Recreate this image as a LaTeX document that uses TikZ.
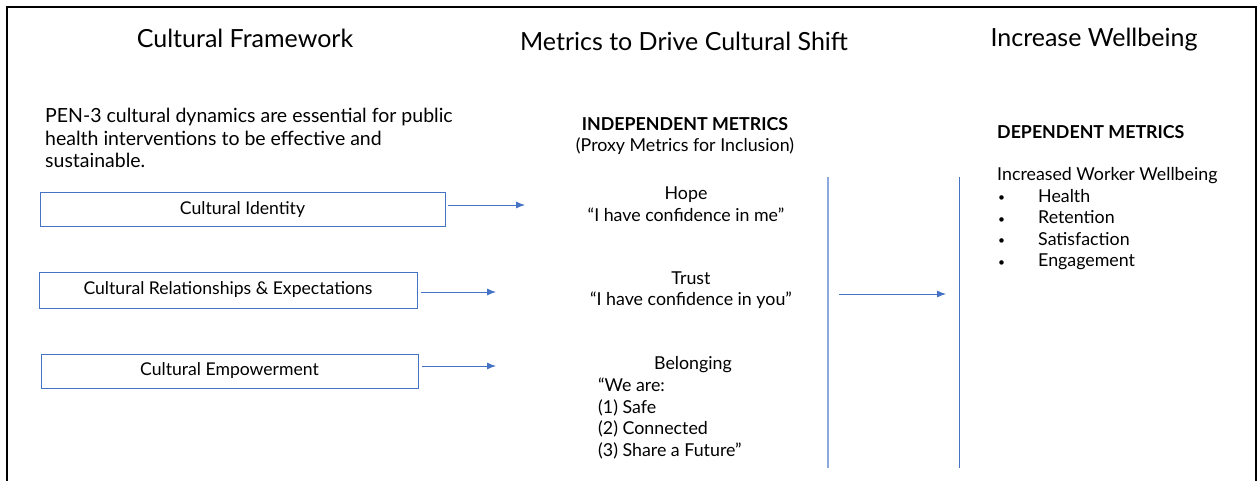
\documentclass[tikz,border=0pt]{standalone}
\usepackage{fontspec}
\setmainfont{Lato}
\usetikzlibrary{arrows.meta}
\definecolor{boxblue}{HTML}{4472C4}
\definecolor{lightblue}{HTML}{8EA9DB}
\newcommand{\mybul}{{\fontsize{12}{12}\selectfont•}\vphantom{Hg}}
\tikzset{
  title/.style={font=\fontsize{25}{29}\selectfont, inner sep=0pt},
  body/.style={font=\fontsize{17.8}{21.5}\selectfont, inner sep=0pt},
  para/.style={font=\fontsize{19.5}{22.5}\selectfont, inner sep=0pt},
  cbox/.style={draw=boxblue, line width=0.8pt, minimum height=34pt, inner sep=0pt, font=\fontsize{17.6}{20}\selectfont},
  conn/.style={draw=boxblue, line width=0.9pt, -{Latex[length=9pt,width=7pt]}},
}
\begin{document}
\begin{tikzpicture}[x=1pt,y=-1pt]
\useasboundingbox (0,0) rectangle (1257,481);
% frame
\draw[line width=2pt] (7,485) -- (7,7) -- (1256,7) -- (1256,485);
% titles
\node[title] (t1) at (245,38) {Cultural Framework};
\node[title] (t2) at (684,41) {Metrics to Drive Cultural Shift};
\node[title] (t3) at (1094,40) {Increase Wellbeing};
% paragraph
\node[para, anchor=north west, align=left] (para) at (45,108) {PEN-3 cultural dynamics are essential for public\\health interventions to be effective and\\sustainable.};
% boxes
\node[cbox, minimum width=405pt] (b1) at (242.5,209.5) {Cultural Identity};
\node[cbox, minimum width=378pt, minimum height=36pt] (b2) at (228,290) {Cultural Relationships \& Expectations};
\node[cbox, minimum width=377pt] (b3) at (229.5,371) {Cultural Empowerment};
% arrow endpoints
\coordinate (e1) at (525,205);
\coordinate (e2) at (496,292);
\coordinate (e3) at (496,366);
\draw[conn] ([xshift=3pt]b1.east |- e1) -- (e1);
\draw[conn] ([xshift=4pt]b2.east |- e2) -- (e2);
\draw[conn] ([xshift=4pt]b3.east |- e3) -- (e3);
% middle column
\node[body, align=center] (ind) at (685,136) {\textbf{INDEPENDENT METRICS}\\(Proxy Metrics for Inclusion)};
\node[body, align=center] (hope) at (686,204) {Hope\\“I have confidence in me”};
\node[body, align=center] (trust) at (691,290) {Trust\\“I have confidence in you”};
\node[body] (bel) at (693,365) {Belonging};
\node[body, anchor=north west, align=left] (belt) at (598,378) {“We are:\\(1) Safe\\(2) Connected\\(3) Share a Future”};
% vertical lines
\coordinate (v1t) at (828,177);
\coordinate (v1b) at (828,468);
\coordinate (v2t) at (959,177);
\coordinate (v2b) at (959,468);
\draw[lightblue, line width=1.3pt] (v1t) -- (v1b);
\draw[boxblue, line width=0.9pt] (v2t) -- (v2b);
\coordinate (m1) at (839,294);
\coordinate (m2) at (946,294);
\draw[conn] (m1) -- (m2);
% right column
\node[body, anchor=west] (dep) at (997,132) {\textbf{DEPENDENT METRICS}};
\node[body, anchor=north west, align=left] (inc) at (997,167) {Increased Worker Wellbeing};
\node[body, anchor=north west, align=left] (bul) at (998,189) {\mybul\\\mybul\\\mybul\\\mybul};
\node[body, anchor=north west, align=left] (items) at (1038,189) {Health\\Retention\\Satisfaction\\Engagement};
\end{tikzpicture}
\end{document}
